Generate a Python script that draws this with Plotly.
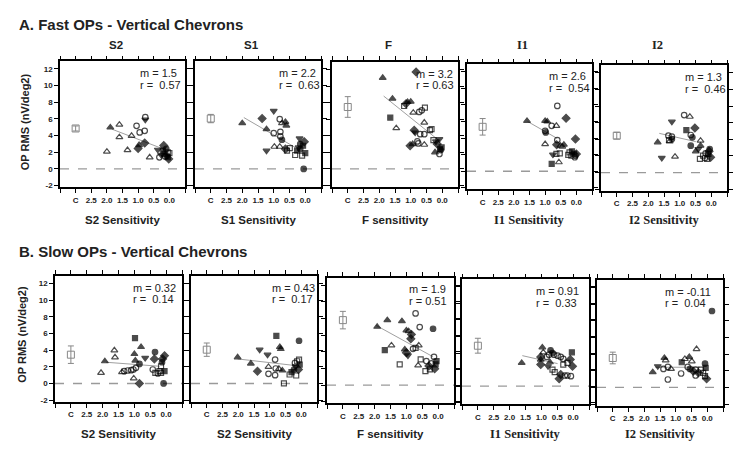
import plotly.graph_objects as go

# ---------------- data ----------------
# symbol codes: T filled tri-up, t open tri-up, V filled tri-down, O filled circle,
# o open circle, S filled square, s open square, D filled diamond
fast_s2_sens = [1.89,1.6,1.6,2.0,1.34,1.21,1.05,0.95,0.79,0.77,0.77,0.97,0.79,1.0,0.63,0.37,0.32,0.18,0.26,0.16,0.1,0.05,0.02,0.21,0.13,0.05,0.08,0.0]
fast_s2_rms  = [4.97,5.3,3.8,2.07,2.26,3.97,5.17,4.37,4.57,6.2,5.9,2.86,3.1,2.46,1.39,2.3,1.39,2.8,1.67,1.8,2.4,1.4,1.2,2.2,1.5,2.0,1.6,1.9]
fast_s2_sym  = list("TtttttooooVTDDtVoDVSOSDSosOs")

fast_s1_sens = [2.0,1.37,1.0,0.81,0.74,0.63,0.6,1.23,1.0,0.79,0.79,0.74,1.23,0.98,0.81,0.63,0.58,0.49,0.18,0.32,0.26,0.16,0.07,0.03,0.0,0.1,0.21,0.16,0.05]
fast_s1_rms  = [5.48,6.04,6.95,5.96,5.48,5.64,5.2,4.77,4.29,4.45,3.9,3.5,2.19,2.66,2.66,2.38,2.19,2.5,3.65,1.67,2.19,2.38,2.78,3.26,1.9,1.59,2.58,2.98,0.0]
fast_s1_sym  = list("TDVotTTToooOVttDssVsSOSDSsVOO")

fast_f_sens = [1.89,0.83,1.58,1.65,1.46,1.21,1.1,1.0,1.15,0.92,0.73,0.55,0.65,0.57,0.89,0.86,0.7,0.57,0.39,0.34,1.02,0.94,0.79,0.76,0.57,0.2,0.09,0.16,0.02,0.07,0.23,0.09,0.05,0.28]
fast_f_rms  = [11.0,11.72,8.48,6.2,4.92,7.6,8.08,8.12,7.88,6.8,6.88,7.4,7.08,5.6,4.68,4.4,4.2,4.2,4.68,4.8,2.8,3.0,3.32,3.08,2.92,3.32,3.6,3.0,2.6,2.4,2.0,1.8,2.28,3.48]
fast_f_sym  = list("TDTStsTTDtosotDVoossDTootVVDSSToOs")

fast_i1_sens = [1.58,1.0,0.93,0.61,0.33,0.79,0.64,1.0,0.98,1.0,0.61,0.63,0.51,0.4,0.45,0.03,0.75,0.64,0.53,0.79,0.56,0.26,0.22,0.14,0.08,0.03,0.16,0.0,0.05]
fast_i1_rms  = [6.08,6.08,6.0,7.88,6.4,5.48,5.48,4.88,4.68,3.28,3.76,3.2,3.08,3.2,2.96,3.88,2.0,2.08,2.16,0.88,1.08,1.96,2.28,2.4,2.08,1.88,1.88,2.08,1.68]
fast_i1_sym  = list("TTToDotoOtoDtTtDVssStssSSosDo")

fast_i2_sens = [1.7,1.57,1.25,1.36,1.25,1.34,1.32,1.25,1.15,0.86,0.68,0.79,0.52,0.65,0.6,0.65,0.34,0.34,0.41,0.49,0.36,0.26,0.18,0.09,0.05,0.02,0.13,0.2,0.07]
fast_i2_rms  = [3.64,1.76,6.12,4.44,4.32,3.92,3.76,4.04,1.92,6.92,6.72,5.12,5.36,4.52,4.24,3.24,3.24,3.84,2.84,2.56,1.64,2.04,2.32,2.24,2.84,1.84,1.64,1.76,2.56]
fast_i2_sym  = list("TVVoostOtotSDoOOTtVTssoSODsoD")

slow_s2_sens = [2.05,1.93,1.63,1.61,1.39,1.32,1.21,1.1,1.03,0.95,0.84,1.0,0.97,0.98,0.79,0.66,1.02,0.84,0.35,0.37,0.42,0.34,0.26,0.21,0.16,0.13,0.05,0.11,0.05,0.16,0.08]
slow_s2_rms  = [1.27,2.66,3.97,3.13,1.35,1.47,1.55,1.59,1.67,1.87,2.34,3.53,2.74,5.44,4.37,3.06,0.6,0.0,3.77,2.94,1.67,1.27,1.19,1.47,2.06,2.54,3.33,2.94,1.47,1.27,0.0]
slow_s2_sym  = list("tTtttoooooOTTSTVtDODosossODDSsO")

slow_s2b_sens = [2.02,1.6,1.32,1.39,1.07,1.04,1.04,0.83,0.83,0.81,0.79,0.68,0.65,0.71,0.6,0.07,0.55,0.37,0.31,0.23,0.18,0.13,0.07,0.05,0.16,0.09,0.2]
slow_s2b_rms  = [3.13,2.38,4.05,1.47,3.45,1.98,1.15,0.99,2.86,1.79,5.71,4.37,4.13,1.75,1.55,5.12,0.0,1.07,1.35,1.67,2.06,2.66,2.86,2.26,0.95,1.67,2.46]
slow_s2b_sym  = list("TTVDVtooooSTTtTOssSOVssSsDo")

slow_f_sens = [1.92,1.6,1.14,0.71,0.58,0.16,1.0,0.93,0.84,0.86,1.68,1.47,1.05,0.95,1.0,0.79,0.71,0.61,1.21,0.55,0.63,0.37,0.13,0.05,0.29,0.21,0.11,0.4,0.26,0.08]
slow_f_rms  = [7.0,7.8,7.68,8.6,6.96,6.76,6.56,6.48,6.08,5.56,4.2,4.76,4.28,3.56,3.88,4.36,4.48,4.76,2.48,3.08,2.36,2.88,3.4,2.88,2.28,2.6,1.96,1.68,1.88,2.48]
slow_f_sym  = list("TTTooOTtDDStTVDostsstooSDoDssS")

slow_i1_sens = [1.62,0.97,0.94,1.02,1.02,1.02,0.71,0.65,0.83,0.76,0.6,0.49,0.39,0.31,0.04,0.09,0.02,0.79,0.65,0.58,0.73,0.31,0.18,0.44,0.39,0.26,0.07,0.18]
slow_i1_rms  = [2.8,4.68,4.08,3.52,3.2,2.6,4.32,4.0,3.52,3.8,3.8,3.68,3.52,3.28,4.08,3.2,2.4,2.4,2.0,1.68,2.88,2.6,2.8,0.88,1.4,1.28,1.2,1.28]
slow_i1_sym  = list("TTtDTDOOooooooSDDVssTssDDooo")

slow_i2_sens = [-0.15,1.73,1.57,1.36,1.32,1.39,1.25,1.15,1.25,0.83,0.81,0.71,0.57,0.49,0.34,0.62,0.55,0.44,0.37,0.28,0.2,0.13,0.07,0.02,0.07,0.05,0.37]
slow_i2_rms  = [9.17,1.83,2.54,3.53,3.25,2.22,2.46,2.22,0.95,1.67,3.02,3.41,3.65,3.13,4.6,2.46,2.22,1.94,2.14,1.75,2.14,1.75,1.35,1.03,2.86,2.34,1.43]
slow_i2_sym  = list("OTVTtootooStTttoODoDsssDOSo")

# control group (plotted at "C")
ctrl_mean = [4.85, 6.04, 7.48, 5.36, 4.44, 3.45, 4.05, 7.8, 4.88, 3.53]
ctrl_err  = [0.3, 0.5, 1.25, 1.0, 0.4, 1.05, 0.8, 1.05, 0.9, 0.7]

# regression line endpoints (sensitivity, rms)
fit_x0 = [1.84, 1.95, 1.86, 1.56, 1.65, 1.89, 2.02, 1.95, 1.6, 1.65]
fit_y0 = [4.77, 6.16, 8.8, 6.0, 4.72, 2.54, 2.94, 7.16, 3.68, 2.42]
fit_x1 = [0.19, 0.32, 0.07, 0.61, 0.49, 0.21, 0.18, 0.16, 0.49, 0.23]
fit_y1 = [2.38, 2.58, 3.32, 3.95, 3.72, 2.06, 2.14, 3.4, 2.72, 2.42]

slopes = ["1.5", "2.2", "3.2", "2.6", "1.3", "0.32", "0.43", "1.9", "0.91", "-0.11"]
rvals  = ["0.57", "0.63", "0.63", "0.54", "0.46", "0.14", "0.17", "0.51", "0.33", "0.04"]

panel_titles = ["S2", "S1", "F", "I1", "I2"]
x_titles = ["S2 Sensitivity", "S1 Sensitivity", "F sensitivity", "I1 Sensitivity", "I2 Sensitivity",
            "S2 Sensitivity", "S2 Sensitivity", "F sensitivity", "I1 Sensitivity", "I2 Sensitivity"]
x_tick_vals = [3.5, 3.0, 2.5, 2.0, 1.5, 1.0, 0.5, 0.0, -0.5]
x_tick_text = ["", "C", "2.5", "2.0", "1.5", "1.0", "0.5", "0.0", ""]
y_tick_vals = [-2, 0, 2, 4, 6, 8, 10, 12]

panels = [
    (fast_s2_sens, fast_s2_rms, fast_s2_sym),
    (fast_s1_sens, fast_s1_rms, fast_s1_sym),
    (fast_f_sens, fast_f_rms, fast_f_sym),
    (fast_i1_sens, fast_i1_rms, fast_i1_sym),
    (fast_i2_sens, fast_i2_rms, fast_i2_sym),
    (slow_s2_sens, slow_s2_rms, slow_s2_sym),
    (slow_s2b_sens, slow_s2b_rms, slow_s2b_sym),
    (slow_f_sens, slow_f_rms, slow_f_sym),
    (slow_i1_sens, slow_i1_rms, slow_i1_sym),
    (slow_i2_sens, slow_i2_rms, slow_i2_sym),
]

# ---------------- layout geometry (window pixels) ----------------
OFF = 8                     # default page body margin
W, H = 750 - OFF, 449 - OFF
# left, right, pixel of y=0, pixel of y=12
geom = [
    (60, 185, 170.0, 69.3), (195, 321, 170.0, 69.3), (332, 458, 170.0, 70.0),
    (467, 592, 172.3, 72.3), (601, 727, 173.7, 73.3),
    (55, 182, 386.0, 285.3), (191, 317, 386.0, 285.3), (327, 454, 387.7, 287.0),
    (462, 589, 388.7, 288.7), (597, 723, 390.0, 289.3),
]
YMIN, YMAX = -2.2, 12.9
text_left = [0.62, 0.65, 0.65, 0.64, 0.65, 0.60, 0.63, 0.63, 0.57, 0.52]
r_gap = ["  ", "  ", " ", "  ", "  ", "  ", "  ", " ", "  ", "  "]


def fx(px):
    return (px - OFF) / W


def fy(py):
    return 1 - (py - OFF) / H


SYM = {"T": "triangle-up", "t": "triangle-up-open", "V": "triangle-down", "O": "circle",
       "o": "circle-open", "S": "square", "s": "square-open", "D": "diamond"}
SIZE = {"T": 6, "t": 6, "V": 6, "O": 5.5, "o": 5.5, "S": 5, "s": 5, "D": 6}
SANS = "Liberation Sans, Arial, sans-serif"
SERIF = "Liberation Serif, Times New Roman, serif"

fig = go.Figure()
layout = dict(width=W, height=H, margin=dict(l=0, r=0, t=0, b=0),
              paper_bgcolor="white", plot_bgcolor="white", showlegend=False)
annotations = []
shapes = []


def ptext(x, y, text, size, fam=SANS, xanchor="center", angle=0):
    annotations.append(dict(xref="paper", yref="paper", x=fx(x), y=fy(y),
                            xanchor=xanchor, yanchor="middle", textangle=angle,
                            text=text, showarrow=False,
                            font=dict(family=fam, size=size, color="#222")))


for i, (g, (xs, ys, syms)) in enumerate(zip(geom, panels)):
    n = i + 1
    L, R, y0p, y12p = g
    ppu = (y0p - y12p) / 12.0
    bot = y0p - YMIN * ppu
    top = y12p - (YMAX - 12) * ppu
    xa = "xaxis" if n == 1 else f"xaxis{n}"
    ya = "yaxis" if n == 1 else f"yaxis{n}"
    xr = "x" if n == 1 else f"x{n}"
    yr = "y" if n == 1 else f"y{n}"
    axis_common = dict(showline=True, linecolor="black", linewidth=1.6, mirror="ticks",
                       ticks="outside", ticklen=4, tickwidth=1.3, tickcolor="black",
                       showgrid=False, zeroline=False)
    layout[xa] = dict(domain=[fx(L), fx(R)], anchor=yr, range=[3.5, -0.5],
                      tickmode="array", tickvals=x_tick_vals,
                      ticktext=[f"<b>{t}</b>" for t in x_tick_text],
                      tickfont=dict(family=SANS, size=8, color="#222"), **axis_common)
    layout[ya] = dict(domain=[fy(bot), fy(top)], anchor=xr, range=[YMIN, YMAX],
                      tickmode="array", tickvals=y_tick_vals,
                      ticktext=[f"<b>{v}</b>" for v in y_tick_vals],
                      showticklabels=(n in (1, 6)),
                      tickfont=dict(family=SANS, size=8, color="#222"), **axis_common)

    # zero dashed line
    shapes.append(dict(type="line", xref=f"{xr} domain", yref=yr, x0=0, x1=1, y0=0, y1=0,
                       line=dict(color="#9a9a9a", width=1.4, dash="dash"), layer="below"))

    # regression line
    fig.add_trace(go.Scatter(x=[fit_x0[i], fit_x1[i]], y=[fit_y0[i], fit_y1[i]], mode="lines",
                             line=dict(color="#a0a0a0", width=1), xaxis=xr, yaxis=yr,
                             hoverinfo="skip"))
    # control group
    fig.add_trace(go.Scatter(x=[3.0], y=[ctrl_mean[i]], mode="markers",
                             marker=dict(symbol="square-open", size=7, color="#888",
                                         line=dict(width=1, color="#888")),
                             error_y=dict(type="data", array=[ctrl_err[i]], color="#888",
                                          thickness=1, width=3),
                             xaxis=xr, yaxis=yr))
    # subjects
    fig.add_trace(go.Scatter(x=xs, y=ys, mode="markers",
                             marker=dict(symbol=[SYM[s] for s in syms],
                                         size=[SIZE[s] for s in syms], color="black",
                                         line=dict(width=1.2, color="black")),
                             xaxis=xr, yaxis=yr))

    # m / r text
    for yy, txt in ((11.5, f"m = {slopes[i]}"), (10.1, f"r ={r_gap[i]}{rvals[i]}")):
        annotations.append(dict(xref=f"{xr} domain", yref=yr, x=text_left[i], y=yy,
                                text=txt, showarrow=False, xanchor="left", yanchor="middle",
                                font=dict(family=SANS, size=11, color="#222")))

    # x title
    fam = SERIF if x_titles[i].startswith("I") else SANS
    ty = 221 if n <= 5 else 437
    ptext((L + R) / 2, ty, f"<b>{x_titles[i]}</b>", 11.5 if fam == SANS else 12.5, fam)

    # panel titles (top row only)
    if n <= 5:
        fam = SERIF if panel_titles[i].startswith("I") else SANS
        ptext((L + R) / 2 - 7, 45, f"<b>{panel_titles[i]}</b>", 11.5 if fam == SANS else 12.5, fam)

# headers
ptext(17, 25, "<b>A. Fast OPs - Vertical Chevrons</b>", 15, xanchor="left")
ptext(17, 253, "<b>B. Slow OPs - Vertical Chevrons</b>", 15, xanchor="left")
# y titles
ptext(25, 123, "<b>OP RMS (nV/deg2)</b>", 11, angle=-90)
ptext(22, 337, "<b>OP RMS (nV/deg2)</b>", 11, angle=-90)

layout["annotations"] = annotations
layout["shapes"] = shapes
fig.update_layout(**layout)
fig.write_html("out.html")
